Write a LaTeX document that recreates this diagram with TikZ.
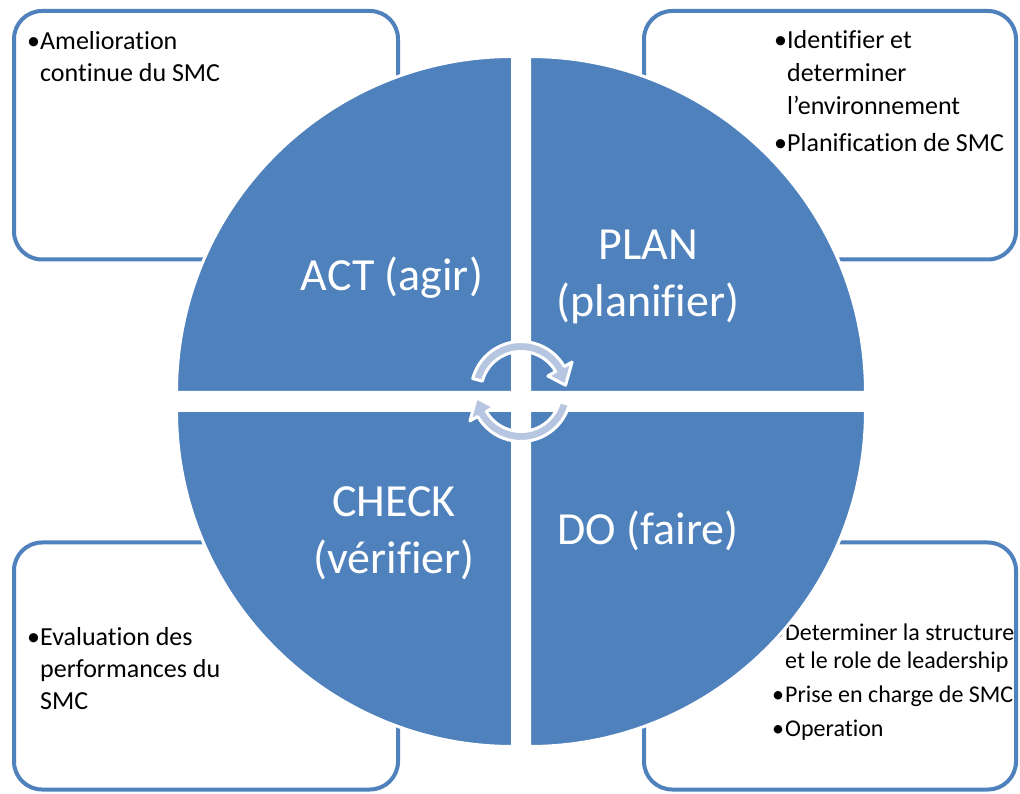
\documentclass[tikz,border=0pt]{standalone}
\usepackage{fontspec}
\setmainfont{Carlito}[Ligatures=NoCommon]
\usepackage{tikz}
\definecolor{pdcablue}{RGB}{79,129,189}
\definecolor{pdcalight}{RGB}{183,198,224}
\tikzset{
	infobox/.style={draw=pdcablue, line width=4pt, fill=white, rounded corners=28pt},
	quarter/.style={fill=pdcablue, draw=white, line width=3pt},
	cyclearrow/.style={fill=pdcalight, draw=white, line width=3pt, line join=round},
	phase/.style={text=white, font=\fontsize{46}{57}\selectfont, inner sep=0pt, anchor=base},
	itemtext/.style={anchor=base west, inner sep=0pt, font=\fontsize{26}{32}\selectfont},
}
\newcommand{\pdcaitem}{\makebox[14pt][l]{\hspace{1pt}•}}
\newcommand{\pdcagap}{\hspace*{14pt}}

\begin{document}
\begin{tikzpicture}[x=1pt, y=1pt]
	\useasboundingbox (0,0) rectangle (1020,793);
	\coordinate (mid) at (521,401.5);
	\coordinate (ctl) at (512.5,400.5);
	\coordinate (ctr) at (529.5,400.5);
	\coordinate (cbl) at (512.5,382.5);
	\coordinate (cbr) at (529.5,382.5);

	\draw[infobox] (14,782) rectangle (398,533.5);
	\draw[infobox] (644,782) rectangle (1016,533.5);
	\draw[infobox] (14,250.5) rectangle (398,3.5);
	\draw[infobox] (644,250.5) rectangle (1016,3.5);

	\node[itemtext] (acttext) at (26,743) {\begin{tabular}[t]{@{}l@{}}\pdcaitem Amelioration\\ \pdcagap continue du SMC\end{tabular}};
	\node[itemtext, font=\fontsize{26}{33}\selectfont] (plantext) at (773,744) {\begin{tabular}[t]{@{}l@{}}\pdcaitem Identifier et\\ \pdcagap determiner\\ \pdcagap l’environnement\\[4pt] \pdcaitem Planification de SMC\end{tabular}};
	\node[itemtext] (checktext) at (26,148) {\begin{tabular}[t]{@{}l@{}}\pdcaitem Evaluation des\\ \pdcagap performances du\\ \pdcagap SMC\end{tabular}};
	\node[itemtext, font=\fontsize{24}{28}\selectfont] (dotext) at (771,153) {\begin{tabular}[t]{@{}l@{}}\pdcaitem Determiner la structure\\ \pdcagap et le role de leadership\\[6pt] \pdcaitem Prise en charge de SMC\\[6pt] \pdcaitem Operation\end{tabular}};

	\path[quarter] (ctl) -- ++(-336pt,0) arc[start angle=180, end angle=90, radius=336pt] -- cycle;
	\path[quarter] (ctr) -- ++(0,336pt) arc[start angle=90, end angle=0, radius=336pt] -- cycle;
	\path[quarter] (cbl) -- ++(0,-336pt) arc[start angle=270, end angle=180, radius=336pt] -- cycle;
	\path[quarter] (cbr) -- ++(336pt,0) arc[start angle=0, end angle=-90, radius=336pt] -- cycle;

	\node[phase] (act) at (392,502) {ACT (agir)};
	\node[phase] (plan) at (648,533) {\begin{tabular}[t]{@{}c@{}}PLAN\\(planifier)\end{tabular}};
	\node[phase] (check) at (394,276) {\begin{tabular}[t]{@{}c@{}}CHECK\\(vérifier)\end{tabular}};
	\node[phase] (do) at (648,248) {DO (faire)};

	\foreach \r in {0,180}
		\path[cyclearrow] ([shift={({\r+165}:50pt)}]mid) arc[start angle=\r+165, end angle=\r+30, radius=50pt]
			-- ([shift={({\r+30}:59pt)}]mid) -- ([shift={({\r+8}:45pt)}]mid) -- ([shift={({\r+30}:31pt)}]mid)
			-- ([shift={({\r+30}:40pt)}]mid) arc[start angle=\r+30, end angle=\r+165, radius=40pt] -- cycle;
\end{tikzpicture}
\end{document}
